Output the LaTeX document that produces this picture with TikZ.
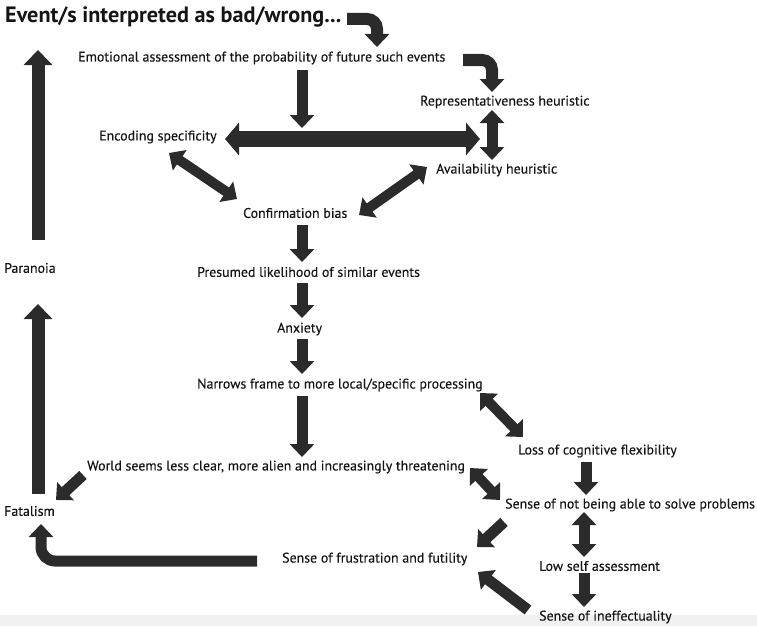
\documentclass[tikz,border=0pt]{standalone}
\usepackage{fontspec}
\setmainfont{PT Sans}
\newfontfamily\lblface[FakeBold=0.3]{PT Sans}
\usetikzlibrary{arrows.meta}
\definecolor{inkgray}{HTML}{151515}
\definecolor{arrowgray}{HTML}{2B2B2B}
\tikzset{
  lbl/.style={inner sep=0pt, anchor=west, text=inkgray, font=\lblface\fontsize{13.9}{16}\selectfont},
  arr/.style={draw=arrowgray, line width=11pt, -{Triangle[length=13pt,width=24pt]}},
  darr/.style={arr, {Triangle[length=13pt,width=24pt]}-{Triangle[length=13pt,width=24pt]}},
  bigarr/.style={draw=arrowgray, line width=16pt, {Triangle[length=14pt,width=32pt]}-{Triangle[length=14pt,width=32pt]}},
  sidearr/.style={draw=arrowgray, line width=13pt, -{Triangle[length=15pt,width=28pt]}},
}
\begin{document}
\begin{tikzpicture}[x=1pt,y=-1pt]
\useasboundingbox (0,0) rectangle (757,626);
\fill[gray!12] (0,615) rectangle (757,626);
% labels
\node[lbl, font=\fontsize{22.2}{25}\selectfont\bfseries] (title) at (5,17) {Event/s interpreted as bad/wrong...};
\node[lbl] (emo) at (78,58) {Emotional assessment of the probability of future such events};
\node[lbl] (rep) at (420,102) {Representativeness heuristic};
\node[lbl] (enc) at (99,137) {Encoding specificity};
\node[lbl] (avail) at (436,170) {Availability heuristic};
\node[lbl] (conf) at (243,213) {Confirmation bias};
\node[lbl] (pres) at (197,272) {Presumed likelihood of similar events};
\node[lbl] (anx) at (277,329) {Anxiety};
\node[lbl] (narr) at (197,385) {Narrows frame to more local/specific processing};
\node[lbl] (para) at (4,268) {Paranoia};
\node[lbl] (loss) at (518,451) {Loss of cognitive flexibility};
\node[lbl] (world) at (87,467) {World seems less clear, more alien and increasingly threatening};
\node[lbl] (fatal) at (4,511) {Fatalism};
\node[lbl] (snot) at (505,505) {Sense of not being able to solve problems};
\node[lbl] (frust) at (282,559) {Sense of frustration and futility};
\node[lbl] (low) at (539,566) {Low self assessment};
\node[lbl] (ineff) at (539,617) {Sense of ineffectuality};
% arrows
\draw[arr, line width=12pt, rounded corners=10pt] ([shift={(342,2)}]title.west) -| ([shift={(299,-11)}]emo.west);
\draw[arr, line width=12pt, rounded corners=10pt] ([shift={(385,2)}]emo.west) -| ([shift={(72,-10)}]rep.west);
\draw[arr] ([shift={(224,12)}]emo.west) -- ([shift={(203,-9)}]enc.west);
\draw[bigarr] ([shift={(126,2)}]enc.west) -- ([shift={(44,-31)}]avail.west);
\draw[darr] ([shift={(72,8)}]rep.west) -- ([shift={(56,-10)}]avail.west);
\draw[darr, line width=10pt] ([shift={(70,16)}]enc.west) -- ([shift={(-6,-14)}]conf.west);
\draw[darr, line width=10pt] ([shift={(-9,-3)}]avail.west) -- ([shift={(116,2)}]conf.west);
\draw[arr] ([shift={(59,12)}]conf.west) -- ([shift={(105,-10)}]pres.west);
\draw[arr] ([shift={(105,11)}]pres.west) -- ([shift={(25,-11)}]anx.west);
\draw[arr] ([shift={(25,10)}]anx.west) -- ([shift={(105,-11)}]narr.west);
\draw[arr] ([shift={(105,11)}]narr.west) -- ([shift={(215,-10)}]world.west);
\draw[darr, line width=10pt] ([shift={(283,8)}]narr.west) -- ([shift={(5,-14)}]loss.west);
\draw[arr] ([shift={(68,11)}]loss.west) -- ([shift={(81,-10)}]snot.west);
\draw[darr, line width=10pt] ([shift={(383,1)}]world.west) -- ([shift={(-5,-5)}]snot.west);
\draw[arr] ([shift={(-1,17)}]snot.west) -- ([shift={(195,-12)}]frust.west);
\draw[darr] ([shift={(79,7)}]snot.west) -- ([shift={(45,-9)}]low.west);
\draw[arr] ([shift={(45,7)}]low.west) -- ([shift={(45,-10)}]ineff.west);
\draw[arr] ([shift={(-11,-7)}]ineff.west) -- ([shift={(196,13)}]frust.west);
\draw[arr] ([shift={(-4,8)}]world.west) -- ([shift={(52,-11)}]fatal.west);
\draw[arr, rounded corners=14pt] ([shift={(-25,2)}]frust.west) -| ([shift={(37,13)}]fatal.west);
\draw[sidearr] ([shift={(34,-17)}]fatal.west) -- ([shift={(34,36)}]para.west);
\draw[sidearr] ([shift={(34,-28)}]para.west) -- ([shift={(33,33)}]title.west);
\end{tikzpicture}
\end{document}
